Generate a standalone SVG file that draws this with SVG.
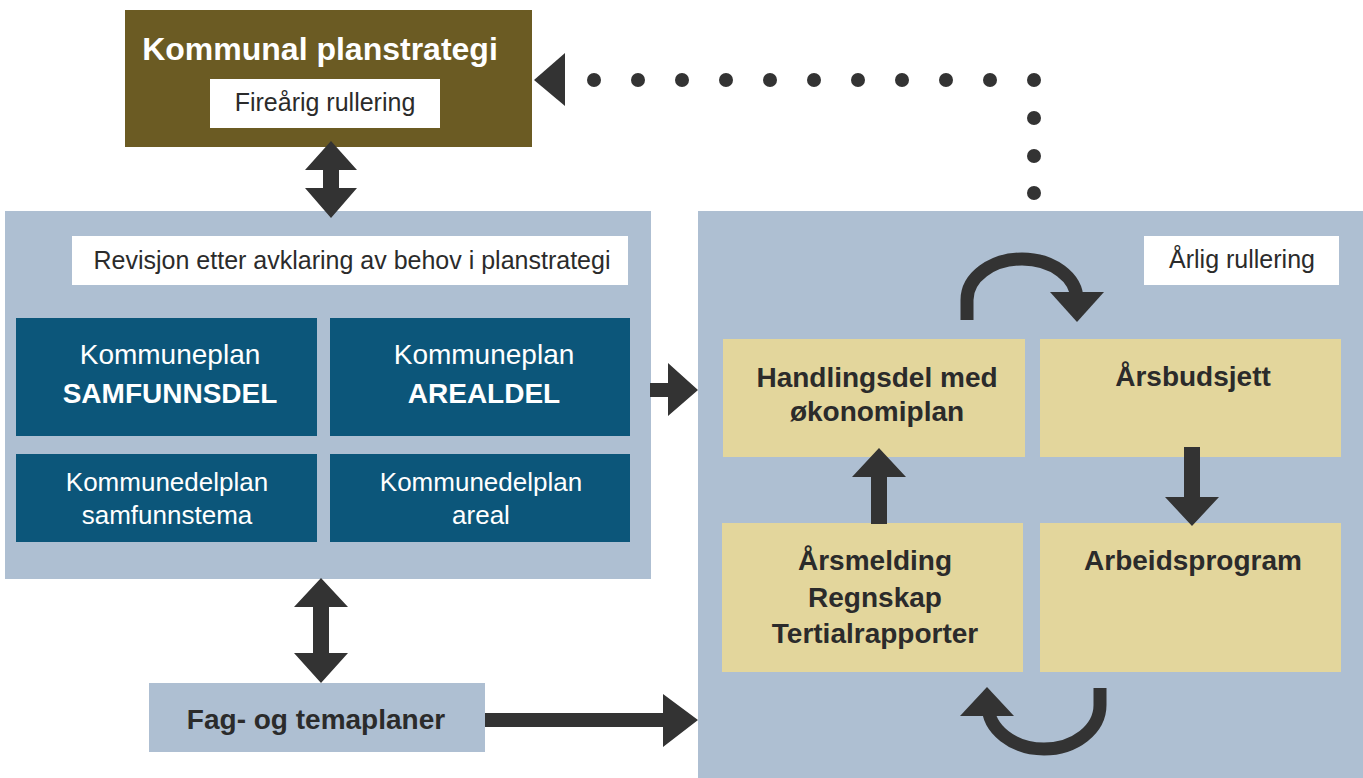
<svg xmlns="http://www.w3.org/2000/svg" width="1363" height="778" viewBox="0 0 1363 778">
<style>
text{font-family:"Liberation Sans",Arial,sans-serif;text-anchor:middle}
.panel{fill:#aebfd2}
.white{fill:#ffffff}
.dark{fill:#0c567a}
.yellow{fill:#e3d69c}
.brown{fill:#6b5b23}
.arrow{fill:#333333}
.arc{fill:none;stroke:#333333;stroke-width:13}
.lbl{font-size:25px;fill:#2b2b2b}
.wt{fill:#ffffff}
.yt{font-size:28px;font-weight:bold;fill:#2b2b2b}
</style>
<rect width="1363" height="778" fill="#ffffff"/>
<g id="panel-left"><rect class="panel" x="5" y="211" width="646" height="368"/></g>
<g id="panel-right"><rect class="panel" x="698" y="211" width="665" height="567"/></g>
<g id="kommunal-planstrategi">
<rect class="brown" x="125" y="10" width="407" height="137"/>
<text x="320" y="60" class="wt" font-size="32" font-weight="bold">Kommunal planstrategi</text>
<rect class="white" x="210" y="79" width="230" height="49"/>
<text x="325" y="111" class="lbl">Fireårig rullering</text>
</g>
<g id="revisjon-label">
<rect class="white" x="72" y="236" width="556" height="49"/>
<text x="352" y="269" class="lbl">Revisjon etter avklaring av behov i planstrategi</text>
</g>
<g id="samfunnsdel">
<rect class="dark" x="16" y="318" width="301" height="118"/>
<text x="170" y="364" class="wt" font-size="28">Kommuneplan</text>
<text x="170" y="403" class="wt" font-size="28" font-weight="bold">SAMFUNNSDEL</text>
</g>
<g id="arealdel">
<rect class="dark" x="330" y="318" width="300" height="118"/>
<text x="484" y="364" class="wt" font-size="28">Kommuneplan</text>
<text x="484" y="403" class="wt" font-size="28" font-weight="bold">AREALDEL</text>
</g>
<g id="kdp-samfunnstema">
<rect class="dark" x="16" y="454" width="301" height="88"/>
<text x="167" y="491" class="wt" font-size="26">Kommunedelplan</text>
<text x="167" y="524" class="wt" font-size="26">samfunnstema</text>
</g>
<g id="kdp-areal">
<rect class="dark" x="330" y="454" width="300" height="88"/>
<text x="481" y="491" class="wt" font-size="26">Kommunedelplan</text>
<text x="481" y="524" class="wt" font-size="26">areal</text>
</g>
<g id="fag-og-temaplaner">
<rect class="panel" x="149" y="683" width="336" height="69"/>
<text x="316" y="729" class="yt">Fag- og temaplaner</text>
</g>
<g id="arlig-rullering">
<rect class="white" x="1144" y="236" width="195" height="49"/>
<text x="1242" y="268" class="lbl" font-size="26">Årlig rullering</text>
</g>
<g id="handlingsdel">
<rect class="yellow" x="723" y="339" width="302" height="118"/>
<text x="877" y="387" class="yt">Handlingsdel med</text>
<text x="877" y="421" class="yt">økonomiplan</text>
</g>
<g id="arsbudsjett">
<rect class="yellow" x="1040" y="339" width="301" height="118"/>
<text x="1193" y="386" class="yt">Årsbudsjett</text>
</g>
<g id="arsmelding">
<rect class="yellow" x="722" y="523" width="301" height="149"/>
<text x="875" y="570" class="yt">Årsmelding</text>
<text x="875" y="607" class="yt">Regnskap</text>
<text x="875" y="643" class="yt">Tertialrapporter</text>
</g>
<g id="arbeidsprogram">
<rect class="yellow" x="1040" y="523" width="301" height="149"/>
<text x="1193" y="570" class="yt">Arbeidsprogram</text>
</g>
<g id="connectors">
<polygon class="arrow" points="331,141 357,170 339,170 339,188 357,188 331,218 305,188 323,188 323,170 305,170"/>
<polygon class="arrow" points="321,578 348,607 329,607 329,653 348,653 321,683 294,653 313,653 313,607 294,607"/>
<polygon class="arrow" points="650,383 668,383 668,363 698,390 668,416 668,397 650,397"/>
<polygon class="arrow" points="485,713 663,713 663,694 698,720 663,747 663,727 485,727"/>
<polygon class="arrow" points="879,448 906,477 887,477 887,524 871,524 871,477 852,477"/>
<polygon class="arrow" points="1184,447 1200,447 1200,497 1219,497 1192,526 1165,497 1184,497"/>
<path class="arc" d="M967 320 V300 A55 41 0 0 1 1077 300 V296"/>
<polygon class="arrow" points="1050,292 1104,292 1077,322"/>
<path class="arc" d="M1100 688 V705 A56 44 0 0 1 988 705 V716"/>
<polygon class="arrow" points="960,716 1014,716 987,687"/>
<polygon class="arrow" points="534,80 565,53 565,106"/>
<g class="arrow">
<circle cx="594" cy="80" r="7"/><circle cx="638" cy="80" r="7"/><circle cx="682" cy="80" r="7"/><circle cx="726" cy="80" r="7"/><circle cx="770" cy="80" r="7"/><circle cx="814" cy="80" r="7"/><circle cx="858" cy="80" r="7"/><circle cx="902" cy="80" r="7"/><circle cx="946" cy="80" r="7"/><circle cx="990" cy="80" r="7"/><circle cx="1034" cy="80" r="7"/>
<circle cx="1034" cy="118" r="7"/><circle cx="1034" cy="156" r="7"/><circle cx="1034" cy="193" r="7"/>
</g>
</g>
</svg>
